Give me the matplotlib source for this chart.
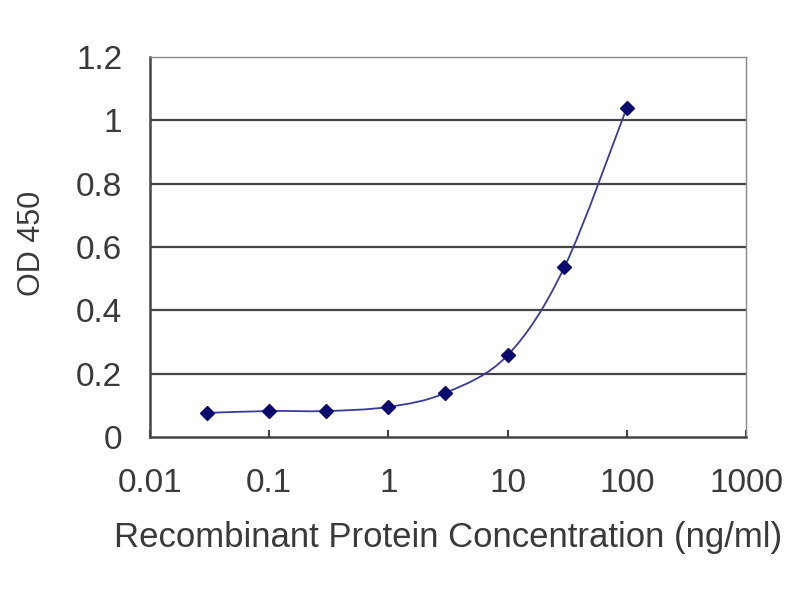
import numpy as np
import matplotlib
matplotlib.use("Agg")
import matplotlib.pyplot as plt
from matplotlib.path import Path
from matplotlib.patches import PathPatch

# data
conc = [0.03, 0.1, 0.3, 1, 3, 10, 30, 100]
od450 = [0.076, 0.082, 0.082, 0.095, 0.139, 0.258, 0.537, 1.040]
xticks = [0.01, 0.1, 1, 10, 100, 1000]
xticklabels = ["0.01", "0.1", "1", "10", "100", "1000"]
yticks = [0, 0.2, 0.4, 0.6, 0.8, 1, 1.2]
yticklabels = ["0", "0.2", "0.4", "0.6", "0.8", "1", "1.2"]

plt.rcParams['font.family'] = ['Liberation Sans', 'DejaVu Sans']
textColor = "#3a3a3a"
tickSize = 24


def smoothPath(xs, ys):
    # Excel-like smoothed line: Catmull-Rom in log-x space, drawn as Bezier segments
    lx = np.log10(xs)
    ys = np.asarray(ys, dtype=float)
    n = len(lx)
    verts = [(xs[0], ys[0])]
    codes = [Path.MOVETO]
    for i in range(n - 1):
        p0 = (lx[max(i - 1, 0)], ys[max(i - 1, 0)])
        p1 = (lx[i], ys[i])
        p2 = (lx[i + 1], ys[i + 1])
        p3 = (lx[min(i + 2, n - 1)], ys[min(i + 2, n - 1)])
        c1 = (p1[0] + (p2[0] - p0[0]) / 6, p1[1] + (p2[1] - p0[1]) / 6)
        c2 = (p2[0] - (p3[0] - p1[0]) / 6, p2[1] - (p3[1] - p1[1]) / 6)
        for c in (c1, c2, p2):
            verts.append((10 ** c[0], c[1]))
            codes.append(Path.CURVE4)
    return Path(verts, codes)


fig = plt.figure(figsize=(8, 6), dpi=100)
ax = fig.add_axes([0.1875, 0.2717, 0.745, 0.6333])
ax.set_xscale("log")
ax.set_xlim(0.01, 1000)
ax.set_ylim(0, 1.2)

for yv in yticks[1:-1]:
    ax.axhline(yv, color="#444444", lw=1.6, zorder=1)

ax.add_patch(PathPatch(smoothPath(conc, od450), fill=False, edgecolor="#3a3a9a", lw=1.3, zorder=2))
ax.plot(conc, od450, linestyle="none", marker="D", markersize=7.5, color="#0a0a6e", zorder=3)

ax.set_xticks(xticks)
ax.set_xticklabels(xticklabels)
ax.xaxis.set_minor_locator(plt.NullLocator())
ax.set_yticks(yticks)
ax.set_yticklabels(yticklabels)
ax.tick_params(axis="x", direction="in", length=5, width=1.5, color="#444444",
               labelsize=tickSize, labelcolor=textColor, pad=22)
ax.tick_params(axis="y", length=0, labelsize=tickSize, labelcolor=textColor, pad=20)

for side in ["left", "bottom"]:
    ax.spines[side].set_color("#444444")
    ax.spines[side].set_linewidth(1.8)
for side in ["top", "right"]:
    ax.spines[side].set_color("#888888")
    ax.spines[side].set_linewidth(1.0)

ax.set_xlabel("Recombinant Protein Concentration (ng/ml)", fontsize=25, color=textColor, labelpad=16)
ax.set_ylabel("OD 450", fontsize=22, color=textColor)
ax.yaxis.set_label_coords(-0.173, 0.51)

fig.savefig("out.png", dpi=100)
